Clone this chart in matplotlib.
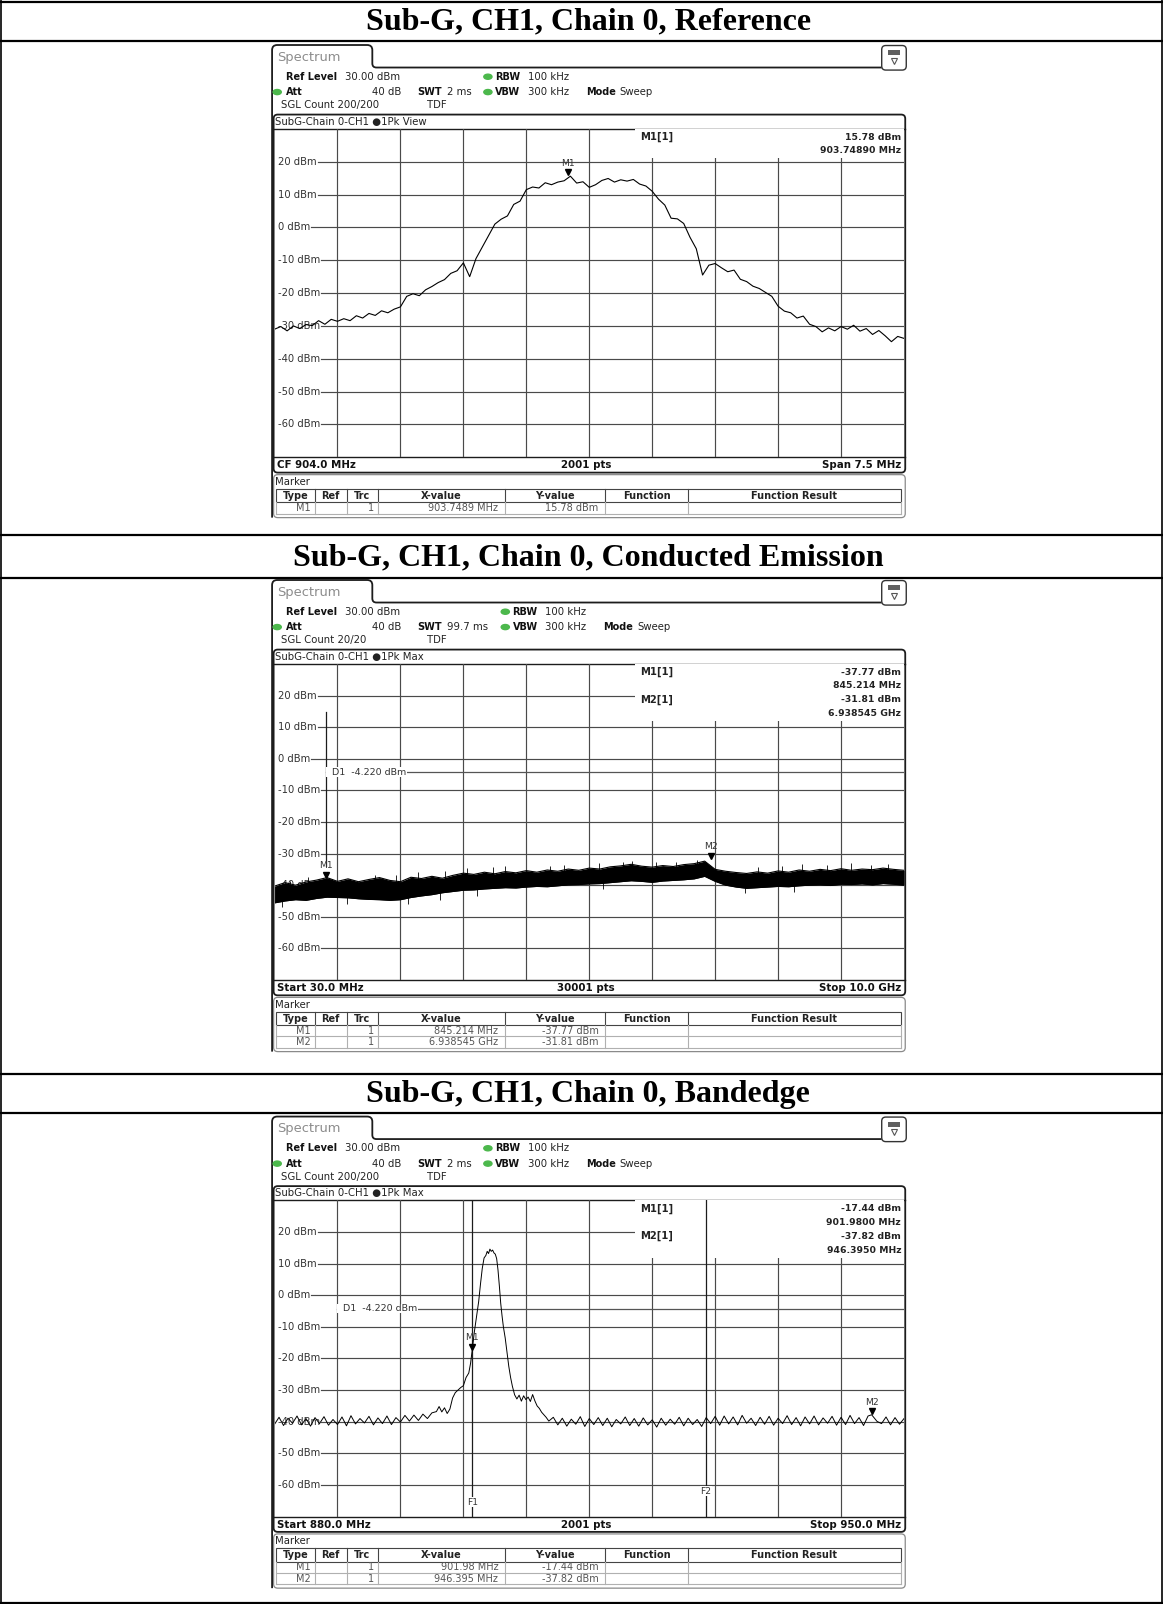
import numpy as np
import matplotlib
matplotlib.use("Agg")
import matplotlib.pyplot as plt
from matplotlib.patches import Rectangle, FancyBboxPatch, Ellipse, PathPatch
from matplotlib.path import Path
import matplotlib.transforms as mtrans

plt.rcParams['font.family'] = ['DejaVu Sans']

# ---------------------------------------------------------------- data
panel_titles = ["Sub-G, CH1, Chain 0, Reference",
                "Sub-G, CH1, Chain 0, Conducted Emission",
                "Sub-G, CH1, Chain 0, Bandedge"]

level_ticks = [20, 10, 0, -10, -20, -30, -40, -50, -60]
level_tick_labels = ["20 dBm", "10 dBm", "0 dBm", "-10 dBm", "-20 dBm",
                     "-30 dBm", "-40 dBm", "-50 dBm", "-60 dBm"]

# Panel 1: reference (CF 904 MHz, span 7.5 MHz), levels in dBm along the sweep
ref_start_mhz, ref_stop_mhz = 900.25, 907.75
ref_level = [
    -31.0, -30.2, -31.5, -30.0, -30.8, -29.6, -29.9, -28.4, -29.5, -28.0,
    -28.6, -27.8, -28.4, -26.9, -27.6, -26.2, -26.8, -25.4, -26.0, -24.9,
    -24.2, -21.0, -20.2, -20.8, -19.0, -18.0, -16.8, -15.9, -14.0, -13.2,
    -10.8, -15.0, -9.5, -6.0, -2.5, 1.0, 2.5, 3.5, 7.0, 8.0,
    11.5, 12.3, 12.0, 13.6, 13.0, 13.8, 14.2, 15.6, 13.5, 13.9,
    12.2, 13.0, 14.3, 14.9, 13.8, 14.5, 14.1, 14.6, 13.2, 12.6,
    11.0, 8.6, 6.8, 2.8, 2.6, 1.2, -3.0, -6.5, -14.5, -11.5,
    -11.0, -12.3, -13.5, -13.0, -15.8, -16.5, -17.9, -18.6, -19.8, -21.0,
    -24.0, -25.5, -26.0, -27.6, -27.0, -29.5, -30.2, -31.8, -30.6, -31.5,
    -30.2, -31.0, -29.8, -31.6, -30.8, -32.6, -31.4, -33.0, -34.8, -33.2,
    -33.8]

# Panel 2: conducted emission 30 MHz .. 10 GHz, upper / lower edge of the noise band
emis_start_mhz, emis_stop_mhz = 30.0, 10000.0
emis_hi = [
    -40.3, -39.2, -40.0, -39.0, -38.4, -37.6, -38.8, -38.0, -38.9, -38.2,
    -37.6, -38.5, -38.9, -37.5, -37.9, -37.2, -37.8, -36.9, -36.2, -36.6,
    -35.9, -36.4, -35.7, -36.1, -35.4, -35.9, -35.2, -35.6, -34.9, -35.3,
    -34.6, -34.9, -34.2, -33.9, -33.4, -34.0, -34.3, -33.8, -34.1, -33.5,
    -33.2, -32.4, -35.0, -35.6, -36.0, -36.3, -35.8, -36.2, -35.5, -35.9,
    -35.2, -35.6, -35.0, -35.4, -34.8, -35.3, -34.9, -35.1, -34.6, -35.0,
    -35.3]
emis_lo = [
    -45.6, -45.0, -44.6, -44.8, -44.2, -43.8, -43.9, -44.0, -44.3, -44.5,
    -44.6, -44.8, -44.6, -43.9, -43.4, -43.0, -42.4, -42.0, -41.6, -41.5,
    -41.2, -41.0, -40.8, -40.9, -40.6, -40.4, -40.5, -40.2, -39.9, -39.8,
    -39.6, -39.5, -39.2, -38.9, -38.6, -38.8, -39.1, -38.7, -38.5, -38.3,
    -38.0, -37.2, -38.8, -40.0, -40.6, -41.0, -40.8, -40.6, -40.4, -40.5,
    -40.2, -40.0, -39.9, -40.1, -39.7, -39.8, -39.6, -39.9, -39.5, -39.7,
    -40.0]
# isolated noise spikes sticking out of the band (frequency MHz, tip dBm)
emis_spike_up_mhz = [275, 560, 1627, 1949, 2303, 2722, 3076, 3495, 3688, 4397,
                     4622, 5170, 5556, 5685, 6071, 6393, 6715, 7681, 8068, 8390,
                     8776, 9163, 9485, 9742]
emis_spike_up_dbm = [-38.6, -37.4, -36.9, -36.8, -35.8, -35.6, -34.6, -34.4, -34.0, -34.0,
                     -33.6, -33.0, -32.6, -32.2, -32.8, -32.6, -32.0, -34.2, -33.8, -33.4,
                     -33.6, -33.0, -33.6, -33.2]
emis_spike_dn_mhz = [146, 1176, 2142, 2658, 3237, 5234, 7488, 8262]
emis_spike_dn_dbm = [-47.0, -46.0, -45.8, -44.6, -43.4, -41.2, -42.6, -42.2]

# Panel 3: bandedge 880 .. 950 MHz
be_start_mhz, be_stop_mhz = 880.0, 950.0
be_freq = [
    880.0, 880.5, 881.0, 881.5, 882.0, 882.5, 883.0, 883.5, 884.0, 884.5,
    885.0, 885.5, 886.0, 886.5, 887.0, 887.5, 888.0, 888.5, 889.0, 889.5,
    890.0, 890.5, 891.0, 891.5, 892.0, 892.5, 893.0, 893.5, 894.0, 894.5,
    895.0, 895.5, 896.0, 896.5, 897.0, 897.5,
    898.0, 898.3, 898.6, 898.9, 899.2, 899.5, 899.8, 900.1, 900.4, 900.7,
    901.0, 901.3, 901.6, 901.8, 902.0, 902.2, 902.45, 902.7, 902.9, 903.1,
    903.3, 903.5, 903.65, 903.8, 903.95, 904.1, 904.25, 904.4, 904.55, 904.7,
    904.85, 905.0, 905.15, 905.3, 905.45, 905.65, 905.85, 906.05, 906.25, 906.45,
    906.7, 906.95, 907.2, 907.45, 907.7, 907.95, 908.2, 908.45, 908.7, 908.95,
    909.2, 909.45, 909.7, 909.95, 910.2, 910.5,
    911.0, 911.5, 912.0, 912.5, 913.0, 913.5, 914.0, 914.5, 915.0, 915.5,
    916.0, 916.5, 917.0, 917.5, 918.0, 918.5, 919.0, 919.5, 920.0, 920.5,
    921.0, 921.5, 922.0, 922.5, 923.0, 923.5, 924.0, 924.5, 925.0, 925.5,
    926.0, 926.5, 927.0, 927.5, 928.0, 928.5, 929.0, 929.5, 930.0, 930.5,
    931.0, 931.5, 932.0, 932.5, 933.0, 933.5, 934.0, 934.5, 935.0, 935.5,
    936.0, 936.5, 937.0, 937.5, 938.0, 938.5, 939.0, 939.5, 940.0, 940.5,
    941.0, 941.5, 942.0, 942.5, 943.0, 943.5, 944.0, 944.5, 945.0, 945.5,
    946.0, 946.4, 947.0, 947.5, 948.0, 948.5, 949.0, 949.5, 950.0]
be_level = [
    -40.8, -38.6, -41.2, -38.9, -40.5, -38.2, -41.0, -39.0, -41.4, -38.7,
    -40.6, -38.4, -41.1, -39.3, -40.9, -38.5, -41.3, -38.1, -40.7, -39.0,
    -40.4, -38.3, -41.0, -38.8, -40.6, -38.2, -40.9, -38.7, -40.1, -38.0,
    -39.8, -37.9, -39.6, -37.6, -39.0, -37.2,
    -36.8, -35.2, -36.9, -35.6, -37.4, -36.0, -32.5, -30.8, -30.0, -29.2,
    -28.6, -26.0, -24.6, -21.5, -17.0, -12.0, -7.0, -2.0, 3.5, 8.5,
    11.8, 12.6, 13.9, 13.2, 14.6, 13.9, 14.3, 13.4, 13.0, 11.6,
    8.0, 3.0, -2.5, -6.5, -10.0, -13.5, -18.0, -22.5, -26.0, -28.8,
    -31.5, -32.8, -31.6, -33.5, -31.8, -33.0, -32.2, -33.6, -31.4, -33.4,
    -35.0, -35.8, -37.0, -37.8, -38.6, -39.8,
    -38.6, -41.0, -38.9, -41.4, -39.2, -40.8, -38.4, -41.5, -39.0, -40.9,
    -38.7, -41.2, -38.9, -41.6, -39.3, -40.7, -38.5, -41.2, -39.0, -41.4,
    -38.8, -41.0, -39.4, -41.7, -38.9, -41.1, -39.2, -40.8, -38.6, -41.3,
    -38.9, -40.9, -39.3, -41.5, -38.7, -40.6, -38.3, -41.1, -38.2, -40.7,
    -38.5, -41.0, -38.0, -40.5, -38.9, -41.2, -38.6, -40.8, -38.3, -41.1,
    -38.9, -40.6, -38.1, -40.9, -38.7, -41.3, -38.5, -40.7, -38.2, -41.0,
    -38.8, -40.5, -38.3, -41.1, -38.6, -40.9, -38.0, -40.6, -38.7, -41.2,
    -38.2, -37.8, -39.9, -40.6, -38.5, -41.0, -38.7, -40.8, -39.0]

display_line_dbm = -4.22
emis_line_mhz = 845.214          # vertical line in emission plot
emis_line_top_dbm = 14.8
be_display_line_start_mhz = 887.0
be_freq_lines = [("F1", 902.0), ("F2", 928.0)]

ref_markers = [("M1", 903.7489, 15.78)]
emis_markers = [("M1", 845.214, -37.77), ("M2", 6938.545, -31.81)]
be_markers = [("M1", 901.98, -17.44), ("M2", 946.395, -37.82)]

ref_info = [("M1[1]", "15.78 dBm", "903.74890 MHz")]
emis_info = [("M1[1]", "-37.77 dBm", "845.214 MHz"), ("M2[1]", "-31.81 dBm", "6.938545 GHz")]
be_info = [("M1[1]", "-17.44 dBm", "901.9800 MHz"), ("M2[1]", "-37.82 dBm", "946.3950 MHz")]

ref_table = [("M1", "1", "903.7489 MHz", "15.78 dBm")]
emis_table = [("M1", "1", "845.214 MHz", "-37.77 dBm"), ("M2", "1", "6.938545 GHz", "-31.81 dBm")]
be_table = [("M1", "1", "901.98 MHz", "-17.44 dBm"), ("M2", "1", "946.395 MHz", "-37.82 dBm")]

ref_footer = ("CF 904.0 MHz", "2001 pts", "Span 7.5 MHz")
emis_footer = ("Start 30.0 MHz", "30001 pts", "Stop 10.0 GHz")
be_footer = ("Start 880.0 MHz", "2001 pts", "Stop 950.0 MHz")

table_headers = ["Type", "Ref", "Trc", "X-value", "Y-value", "Function", "Function Result"]

# ---------------------------------------------------------------- layout
W, H = 1137.0, 1568.0
fig = plt.figure(figsize=(11.63, 16.04), dpi=100)
bg = fig.add_axes([0, 0, 1, 1], zorder=0)
bg.set_xlim(0, W)
bg.set_ylim(H, 0)
bg.axis("off")
renderer = fig.canvas.get_renderer()

LC = "#1c1c1c"
GRID = "#4a4a4a"
FS = 7.3      # regular screen text
FSB = 7.0     # bold screen text
FST = 7.0     # table text

# document table
for y in [1.5, 40.5, 523, 565, 1050, 1088, 1567]:
    bg.plot([0, W], [y, y], color="black", lw=1.6, solid_capstyle="butt")
for x in [1.0, 1136.0]:
    bg.plot([x, x], [0, H], color="black", lw=1.2, solid_capstyle="butt")
for title, y in zip(panel_titles, [21.5, 545.5, 1070]):
    bg.text(575, y, title, ha="center", va="center", fontsize=23,
            fontfamily="Liberation Serif", fontweight="bold", color="black")


def green_dot(x, y):
    bg.add_patch(Ellipse((x, y), 8, 5, color="#4cb84c", zorder=3))


def screenshot(top, plot_bot, swt, sgl, trace_mode, dx, footer, table, info,
               xlim, draw_trace, markers):
    t = top
    tab_bot = t + 22
    plot_top = t + 82
    diag_top = t + 68
    diag_bot = plot_bot + 15
    hdr_top = plot_bot + 31
    hdr_h = 13
    row_h = 11
    last = hdr_top + hdr_h + row_h * len(table)
    bottom = last + 4

    # outline with tab
    M, L3, C = Path.MOVETO, Path.LINETO, Path.CURVE3
    verts = [(266, bottom), (266, t + 5), (266, t), (271, t), (359, t), (364, t),
             (364, t + 5), (364, tab_bot - 4), (364, tab_bot), (368, tab_bot), (862, tab_bot)]
    codes = [M, L3, C, C, L3, C, C, L3, C, C, L3]
    bg.add_patch(PathPatch(Path(verts, codes), fc="none", ec=LC, lw=1.3))
    bg.text(271, t + 12, "Spectrum", fontsize=9.4, color="#8c8c8c", va="center")
    # icon
    bg.add_patch(FancyBboxPatch((862, t + 0.5), 24, 24, boxstyle="round,pad=0,rounding_size=4",
                                fc="white", ec="#333333", lw=1.0))
    bg.add_patch(Rectangle((868, t + 5), 12, 5, fc="#606060", ec="none"))
    bg.plot([874], [t + 15.5], marker="v", ms=5, mfc="white", mec="#555555", mew=0.8)

    # header lines
    r1, r2, r3 = t + 31, t + 46, t + 59
    kw = dict(fontsize=FS, va="center", color="#222222")
    kb = dict(fontsize=FSB, va="center", color="#111111", fontweight="bold")
    bg.text(280, r1, "Ref Level", **kb)
    bg.text(337, r1, "30.00 dBm", **kw)
    green_dot(271, r2)
    bg.text(280, r2, "Att", **kb)
    bg.text(392, r2, "40 dB", ha="right", **kw)
    bg.text(408, r2, "SWT", **kb)
    bg.text(437, r2, swt, **kw)
    green_dot(477 + dx, r1)
    green_dot(477 + dx, r2)
    bg.text(484 + dx, r1, "RBW", **kb)
    bg.text(516 + dx, r1, "100 kHz", **kw)
    bg.text(484 + dx, r2, "VBW", **kb)
    bg.text(516 + dx, r2, "300 kHz", **kw)
    bg.text(573 + dx, r2, "Mode", **kb)
    bg.text(606 + dx, r2, "Sweep", **kw)
    bg.text(275, r3, "SGL Count " + sgl, **kw)
    bg.text(417, r3, "TDF", **kw)

    # diagram frame
    bg.add_patch(FancyBboxPatch((267.5, diag_top), 617.5, diag_bot - diag_top,
                                boxstyle="round,pad=0,rounding_size=4", fc="none", ec=LC, lw=1.3))
    bg.plot([267.5, 885], [plot_top, plot_top], color=LC, lw=1.0)
    bg.plot([267.5, 885], [plot_bot, plot_bot], color=LC, lw=1.0)
    bg.text(268.5, diag_top + 7, "SubG-Chain 0-CH1 \u25cf" + trace_mode, **kw)
    fkw = dict(fontsize=7.4, va="center", color="#111111", fontweight="bold")
    bg.text(271, plot_bot + 8, footer[0], ha="left", **fkw)
    bg.text(573, plot_bot + 8, footer[1], ha="center", **fkw)
    bg.text(881, plot_bot + 8, footer[2], ha="right", **fkw)

    # marker table
    bg.add_patch(FancyBboxPatch((267.5, diag_bot + 2), 617.5, bottom - diag_bot - 2,
                                boxstyle="round,pad=0,rounding_size=4", fc="none", ec="#8a8a8a", lw=0.9))
    bg.text(268.5, plot_bot + 24, "Marker", **kw)
    cols = [270, 307.8, 338.9, 369.5, 493.3, 591.5, 672.9, 880.4]
    bg.add_patch(Rectangle((270, hdr_top), 610.4, hdr_h, fc="none", ec="#444444", lw=0.8))
    for cx in cols[1:-1]:
        bg.plot([cx, cx], [hdr_top, hdr_top + hdr_h], color="#444444", lw=0.8)
        bg.plot([cx, cx], [hdr_top + hdr_h, last], color="#b0b0b0", lw=0.8)
    bg.plot([270, 270], [hdr_top + hdr_h, last], color="#b0b0b0", lw=0.8)
    bg.plot([880.4, 880.4], [hdr_top + hdr_h, last], color="#b0b0b0", lw=0.8)
    for name, c0, c1 in zip(table_headers, cols[:-1], cols[1:]):
        bg.text((c0 + c1) / 2, hdr_top + hdr_h / 2 + 0.5, name, ha="center", fontweight="bold",
                fontsize=FST, va="center", color="#222222")
    for i, row in enumerate(table):
        yc = hdr_top + hdr_h + row_h * (i + 0.5) + 0.3
        yb = hdr_top + hdr_h + row_h * (i + 1)
        bg.plot([270, 880.4], [yb, yb], color="#b0b0b0", lw=0.8)
        dkw = dict(fontsize=FST, va="center", color="#555555", ha="right")
        bg.text(304, yc, row[0], **dkw)
        bg.text(366, yc, row[1], **dkw)
        bg.text(487, yc, row[2], **dkw)
        bg.text(585, yc, row[3], **dkw)

    # data axes
    x0, x1 = 268.4, 883.8
    ax = fig.add_axes([x0 / W, 1 - plot_bot / H, (x1 - x0) / W, (plot_bot - plot_top) / H], zorder=2)
    ax.set_xlim(*xlim)
    ax.set_ylim(-70, 30)
    ax.set_xticks([])
    ax.set_yticks([])
    for s in ax.spines.values():
        s.set_visible(False)
    ax.patch.set_visible(False)
    for xv in np.linspace(xlim[0], xlim[1], 11)[1:-1]:
        ax.axvline(xv, color=GRID, lw=0.85, zorder=1)
    lab_tr = mtrans.blended_transform_factory(ax.transAxes, ax.transData)
    for yv, lab in zip(level_ticks, level_tick_labels):
        tx = ax.text(0.006, yv, lab, transform=lab_tr, fontsize=7.2, va="center", ha="left",
                     color="#333333", zorder=2)
        bb = tx.get_window_extent(renderer=renderer)
        xend = ax.transAxes.inverted().transform((bb.x1, bb.y0))[0]
        ax.axhline(yv, xmin=xend + 0.001, color=GRID, lw=0.85, zorder=1)
    # marker info box
    box_h = 28 if len(info) == 1 else 56
    ax.add_patch(Rectangle((621, plot_top), 263, box_h, transform=bg.transData,
                           fc="white", ec="none", zorder=1.5))
    for k, (nm, lvl, frq) in enumerate(info):
        yy = plot_top + 8 + 27 * k
        ax.text(626, yy, nm, transform=bg.transData, fontsize=7.2, fontweight="bold",
                va="center", ha="left", color="#222222", zorder=2)
        ax.text(881, yy, lvl, transform=bg.transData, fontsize=6.7, fontweight="bold",
                va="center", ha="right", color="#222222", zorder=2)
        ax.text(881, yy + 13.5, frq, transform=bg.transData, fontsize=6.7, fontweight="bold",
                va="center", ha="right", color="#222222", zorder=2)
    draw_trace(ax)
    tri = mtrans.offset_copy(ax.transData, fig=fig, x=0, y=2.6, units="points")
    lab = mtrans.offset_copy(ax.transData, fig=fig, x=0, y=9.0, units="points")
    for nm, f, lvl in markers:
        ax.plot([f], [lvl], marker="v", ms=5, color="black", transform=tri, zorder=5, clip_on=False)
        ax.text(f, lvl, nm, transform=lab, ha="center", va="center", fontsize=6.6,
                color="#333333", zorder=5)
    return ax


def draw_ref(ax):
    f = np.linspace(ref_start_mhz, ref_stop_mhz, len(ref_level))
    ax.plot(f, ref_level, color="black", lw=0.8, zorder=3)


def draw_emis(ax):
    f = np.linspace(emis_start_mhz, emis_stop_mhz, len(emis_hi))
    ax.fill_between(f, emis_lo, emis_hi, color="black", lw=0, zorder=3)
    ax.plot(f, emis_hi, color="black", lw=0.8, zorder=3)
    ax.plot(f, emis_lo, color="black", lw=0.8, zorder=3)
    up = np.array(emis_spike_up_dbm)
    ax.vlines(emis_spike_up_mhz, up - 4.0, up, color="black", lw=0.6, zorder=3)
    dn = np.array(emis_spike_dn_dbm)
    ax.vlines(emis_spike_dn_mhz, dn, dn + 4.0, color="black", lw=0.6, zorder=3)
    ax.plot([emis_line_mhz, emis_line_mhz], [emis_line_top_dbm, -34], color=LC, lw=0.9, zorder=2.5)
    ax.plot([emis_line_mhz, emis_stop_mhz], [display_line_dbm] * 2, color="#555555", lw=0.9, zorder=2.5)
    ax.text(emis_line_mhz, display_line_dbm, "  D1  -4.220 dBm", fontsize=6.8, va="center", ha="left",
            color="#333333", zorder=2.6, bbox=dict(fc="white", ec="none", pad=0.3))


def draw_be(ax):
    ax.plot([be_display_line_start_mhz, be_stop_mhz], [display_line_dbm] * 2, color="#555555",
            lw=0.9, zorder=2.5)
    ax.text(be_display_line_start_mhz, display_line_dbm, "  D1  -4.220 dBm", fontsize=6.8,
            va="center", ha="left", color="#333333", zorder=2.6,
            bbox=dict(fc="white", ec="none", pad=0.3))
    for (nm, fl), ylab in zip(be_freq_lines, [-65.5, -62.0]):
        ax.axvline(fl, color=LC, lw=0.9, zorder=2.5)
        ax.text(fl, ylab, nm, fontsize=6.6, ha="center", va="center", color="#333333", zorder=2.6,
                bbox=dict(fc="white", ec="none", pad=0.3))
    ax.plot(be_freq, be_level, color="black", lw=0.7, zorder=3)


screenshot(44, 447, "2 ms", "200/200", "1Pk View", 0, ref_footer, ref_table, ref_info,
           (ref_start_mhz, ref_stop_mhz), draw_ref, ref_markers)
screenshot(567, 958, "99.7 ms", "20/20", "1Pk Max", 17, emis_footer, emis_table, emis_info,
           (emis_start_mhz, emis_stop_mhz), draw_emis, emis_markers)
screenshot(1091.5, 1482.5, "2 ms", "200/200", "1Pk Max", 0, be_footer, be_table, be_info,
           (be_start_mhz, be_stop_mhz), draw_be, be_markers)

fig.savefig("out.png", dpi=100)
